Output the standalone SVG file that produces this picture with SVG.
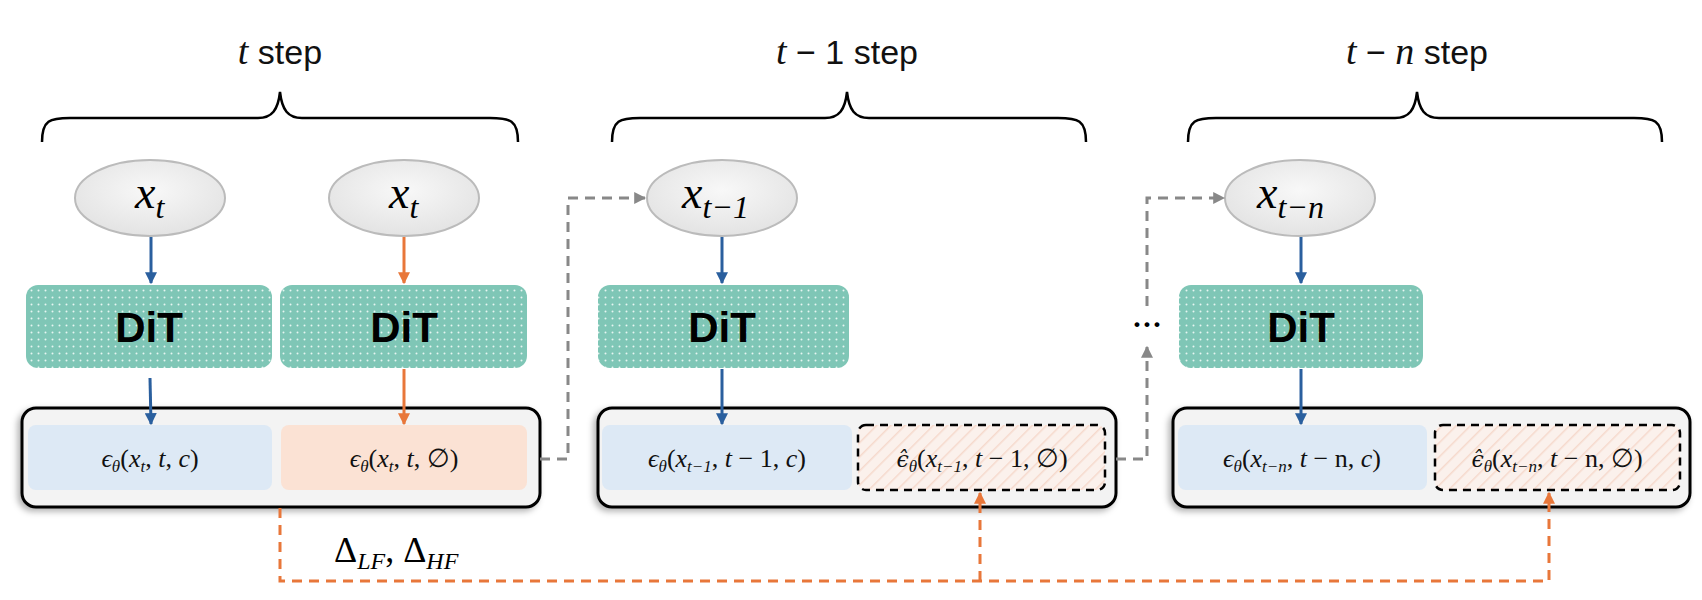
<svg xmlns="http://www.w3.org/2000/svg" width="1702" height="600" viewBox="0 0 1702 600">
<style>
.title{font-family:"Liberation Sans",Arial,sans-serif;font-size:34px;fill:#111}
.mi{font-family:"Liberation Serif","DejaVu Serif",serif;font-style:italic}
.m{font-family:"Liberation Serif","DejaVu Serif",serif}
.dv{font-family:"DejaVu Serif",serif;font-style:italic}
.dit{font-family:"Liberation Sans",Arial,sans-serif;font-weight:bold;font-size:42px;fill:#000}
.lab{font-size:26px;fill:#111}
.outer{fill:#f3f3f3;stroke:#000;stroke-width:3}
.blue{fill:#dde9f5}
.orng{fill:#fbe2d4}
.hat{fill:url(#hatch);stroke:#000;stroke-width:2.5;stroke-dasharray:8 6}
.ell{fill:url(#eg);stroke:#bbb;stroke-width:2}
.ditbox{fill:url(#dots)}
.brace{fill:none;stroke:#000;stroke-width:2.5}
.ab{stroke:#2a5f9e;stroke-width:3;fill:none}
.ao{stroke:#e8773a;stroke-width:3;fill:none}
.gd{stroke:#888;stroke-width:3;fill:none;stroke-dasharray:10 7}
.od{stroke:#e8773a;stroke-width:3;fill:none;stroke-dasharray:10 7}
</style>
<defs>
<pattern id="dots" width="7" height="7" patternUnits="userSpaceOnUse">
<rect width="7" height="7" fill="#7fc6b6"/><circle cx="3.5" cy="3.5" r="1" fill="#e6f5f1"/>
</pattern>
<pattern id="hatch" width="10" height="10" patternUnits="userSpaceOnUse" patternTransform="rotate(45)">
<rect width="10" height="10" fill="#fbf1ec"/><line x1="0" y1="0" x2="0" y2="10" stroke="#f6d9cc" stroke-width="3"/>
</pattern>
<radialGradient id="eg" cx="50%" cy="40%" r="60%"><stop offset="0" stop-color="#f8f8f8"/><stop offset="1" stop-color="#e3e3e3"/></radialGradient>
<filter id="sh" x="-5%" y="-10%" width="110%" height="130%"><feDropShadow dx="-3" dy="3" stdDeviation="3" flood-color="#000" flood-opacity="0.3"/></filter>
<marker id="mb" viewBox="0 0 10 10" refX="9" refY="5" markerWidth="4" markerHeight="4" orient="auto"><path d="M0,0L10,5L0,10z" fill="#2a5f9e"/></marker>
<marker id="mo" viewBox="0 0 10 10" refX="9" refY="5" markerWidth="4" markerHeight="4" orient="auto"><path d="M0,0L10,5L0,10z" fill="#e8773a"/></marker>
<marker id="mg" viewBox="0 0 10 10" refX="9" refY="5" markerWidth="4" markerHeight="4" orient="auto"><path d="M0,0L10,5L0,10z" fill="#888"/></marker>
</defs>

<g id="titles">
<text class="title" x="280" y="64" text-anchor="middle"><tspan class="mi" font-size="38">t</tspan> step</text>
<text class="title" x="847" y="64" text-anchor="middle"><tspan class="mi" font-size="38">t</tspan> − 1 step</text>
<text class="title" x="1417" y="64" text-anchor="middle"><tspan class="mi" font-size="38">t</tspan> − <tspan class="mi" font-size="38">n</tspan> step</text>
<path class="brace" d="M42,142 C42,120 50,118 70,118 L258,118 C272,118 278,110 280,92 C282,110 288,118 302,118 L490,118 C510,118 518,120 518,142"/>
<path class="brace" d="M612,142 C612,120 620,118 640,118 L825,118 C839,118 845,110 847,92 C849,110 855,118 869,118 L1058,118 C1078,118 1086,120 1086,142"/>
<path class="brace" d="M1188,142 C1188,120 1196,118 1216,118 L1395,118 C1409,118 1415,110 1417,92 C1419,110 1425,118 1439,118 L1634,118 C1654,118 1662,120 1662,142"/>
</g>

<g id="outer1"><rect class="outer" x="22" y="408" width="518" height="99" rx="14" filter="url(#sh)"/></g>
<g id="outer2"><rect class="outer" x="598" y="408" width="518" height="99" rx="14" filter="url(#sh)"/></g>
<g id="outer3"><rect class="outer" x="1173" y="408" width="517" height="99" rx="14" filter="url(#sh)"/></g>

<g id="e1"><ellipse class="ell" cx="150" cy="198" rx="75" ry="38"/><text class="mi" x="135" y="208" font-size="46">x<tspan font-size="32" dy="10">t</tspan></text></g>
<g id="e2"><ellipse class="ell" cx="404" cy="198" rx="75" ry="38"/><text class="mi" x="389" y="208" font-size="46">x<tspan font-size="32" dy="10">t</tspan></text></g>
<g id="e3"><ellipse class="ell" cx="722" cy="198" rx="75" ry="38"/><text class="mi" x="682" y="208" font-size="46">x<tspan font-size="32" dy="10">t−1</tspan></text></g>
<g id="e4"><ellipse class="ell" cx="1300" cy="198" rx="75" ry="38"/><text class="mi" x="1257" y="208" font-size="46">x<tspan font-size="32" dy="10">t−n</tspan></text></g>

<g id="dit1"><rect class="ditbox" x="26" y="285" width="246" height="83" rx="12"/><text class="dit" x="149" y="342" text-anchor="middle">DiT</text></g>
<g id="dit2"><rect class="ditbox" x="280" y="285" width="247" height="83" rx="12"/><text class="dit" x="404" y="342" text-anchor="middle">DiT</text></g>
<g id="dit3"><rect class="ditbox" x="598" y="285" width="251" height="83" rx="12"/><text class="dit" x="722" y="342" text-anchor="middle">DiT</text></g>
<g id="dit4"><rect class="ditbox" x="1179" y="285" width="244" height="83" rx="12"/><text class="dit" x="1301" y="342" text-anchor="middle">DiT</text></g>

<g id="b1"><rect class="blue" x="28" y="425" width="244" height="65" rx="8"/><text class="m lab" x="150" y="467" text-anchor="middle"><tspan class="mi">ϵ</tspan><tspan class="mi" font-size="17" dy="5">θ</tspan><tspan dy="-5">(</tspan><tspan class="mi">x</tspan><tspan class="mi" font-size="17" dy="5">t</tspan><tspan dy="-5">, </tspan><tspan class="mi">t</tspan>, <tspan class="mi">c</tspan>)</text></g>
<g id="b2"><rect class="orng" x="281" y="425" width="246" height="65" rx="8"/><text class="m lab" x="404" y="467" text-anchor="middle"><tspan class="mi">ϵ</tspan><tspan class="mi" font-size="17" dy="5">θ</tspan><tspan dy="-5">(</tspan><tspan class="mi">x</tspan><tspan class="mi" font-size="17" dy="5">t</tspan><tspan dy="-5">, </tspan><tspan class="mi">t</tspan>, ∅)</text></g>
<g id="b3"><rect class="blue" x="602" y="425" width="250" height="65" rx="8"/><text class="m lab" x="727" y="467" text-anchor="middle"><tspan class="mi">ϵ</tspan><tspan class="mi" font-size="17" dy="5">θ</tspan><tspan dy="-5">(</tspan><tspan class="mi">x</tspan><tspan class="mi" font-size="17" dy="5">t−1</tspan><tspan dy="-5">, </tspan><tspan class="mi">t</tspan> − 1, <tspan class="mi">c</tspan>)</text></g>
<g id="b4"><rect class="hat" x="858" y="425" width="247" height="65" rx="8"/><text class="m lab" x="982" y="467" text-anchor="middle"><tspan class="dv" font-size="22">ϵ̂</tspan><tspan class="mi" font-size="17" dy="5">θ</tspan><tspan dy="-5">(</tspan><tspan class="mi">x</tspan><tspan class="mi" font-size="17" dy="5">t−1</tspan><tspan dy="-5">, </tspan><tspan class="mi">t</tspan> − 1, ∅)</text></g>
<g id="b5"><rect class="blue" x="1178" y="425" width="249" height="65" rx="8"/><text class="m lab" x="1302" y="467" text-anchor="middle"><tspan class="mi">ϵ</tspan><tspan class="mi" font-size="17" dy="5">θ</tspan><tspan dy="-5">(</tspan><tspan class="mi">x</tspan><tspan class="mi" font-size="17" dy="5">t−n</tspan><tspan dy="-5">, </tspan><tspan class="mi">t</tspan> − n, <tspan class="mi">c</tspan>)</text></g>
<g id="b6"><rect class="hat" x="1435" y="425" width="245" height="65" rx="8"/><text class="m lab" x="1557" y="467" text-anchor="middle"><tspan class="dv" font-size="22">ϵ̂</tspan><tspan class="mi" font-size="17" dy="5">θ</tspan><tspan dy="-5">(</tspan><tspan class="mi">x</tspan><tspan class="mi" font-size="17" dy="5">t−n</tspan><tspan dy="-5">, </tspan><tspan class="mi">t</tspan> − n, ∅)</text></g>

<g id="connectors">
<line class="ab" x1="151" y1="237" x2="151" y2="283" marker-end="url(#mb)"/>
<line class="ab" x1="150" y1="378" x2="151" y2="424" marker-end="url(#mb)"/>
<line class="ao" x1="404" y1="237" x2="404" y2="283" marker-end="url(#mo)"/>
<line class="ao" x1="404" y1="369" x2="404" y2="424" marker-end="url(#mo)"/>
<line class="ab" x1="722" y1="237" x2="722" y2="283" marker-end="url(#mb)"/>
<line class="ab" x1="722" y1="369" x2="722" y2="424" marker-end="url(#mb)"/>
<line class="ab" x1="1301" y1="237" x2="1301" y2="283" marker-end="url(#mb)"/>
<line class="ab" x1="1301" y1="369" x2="1301" y2="424" marker-end="url(#mb)"/>
<path class="gd" d="M540,459 H568 V198 H645" marker-end="url(#mg)"/>
<path class="gd" d="M1116,459 H1147 V347" marker-end="url(#mg)"/>
<path class="gd" d="M1147,306 V198 H1224" marker-end="url(#mg)"/>
<path class="od" d="M280,508 V581 H1549 V493" marker-end="url(#mo)"/>
<path class="od" d="M980,581 V493" marker-end="url(#mo)"/>
</g>
<g id="labels">
<text class="m" x="334" y="562" font-size="36">Δ<tspan class="mi" font-size="24" dy="7">LF</tspan><tspan dy="-7">, Δ</tspan><tspan class="mi" font-size="24" dy="7">HF</tspan></text>
<text class="m" x="1147" y="334" font-size="30" font-weight="bold" text-anchor="middle">···</text>
</g>
</svg>
